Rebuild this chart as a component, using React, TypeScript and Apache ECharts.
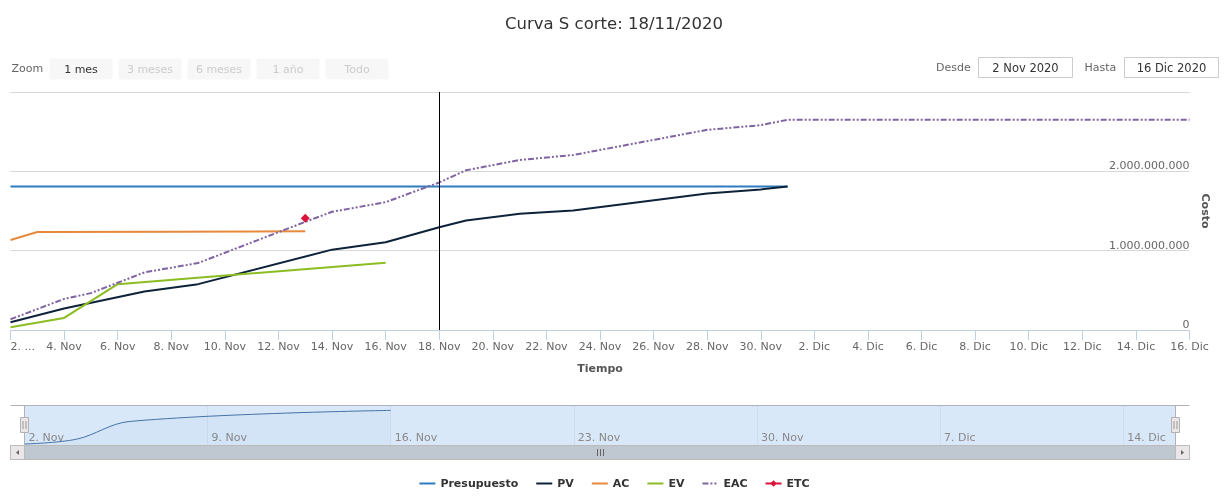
import React, { useEffect, useRef } from "react";
import * as echarts from "echarts";

const FONT = '"DejaVu Sans", sans-serif';

const chartTitle = "Curva S corte: 18/11/2020";
const startDate = "2020-11-02";
const endDate = "2020-12-16";
const cutDate = "2020-11-18";
const monthNames = ["Ene", "Feb", "Mar", "Abr", "May", "Jun", "Jul", "Ago", "Sep", "Oct", "Nov", "Dic"];
const rangeButtons = ["1 mes", "3 meses", "6 meses", "1 año", "Todo"];
const xAxisTitle = "Tiempo";
const yAxisTitle = "Costo";

const presupuestoDates = ["2020-11-02", "2020-12-01"];
const presupuestoValues = [1810000000, 1810000000];

const pvDates = ["2020-11-02", "2020-11-04", "2020-11-07", "2020-11-09", "2020-11-14", "2020-11-16", "2020-11-18", "2020-11-19", "2020-11-21", "2020-11-23", "2020-11-28", "2020-11-30", "2020-12-01"];
const pvValues = [97e6, 270e6, 485e6, 578e6, 1013e6, 1105e6, 1295e6, 1380e6, 1464e6, 1506e6, 1720e6, 1772e6, 1810e6];

const acDates = ["2020-11-02", "2020-11-03", "2020-11-08", "2020-11-13"];
const acValues = [1135e6, 1236e6, 1240e6, 1244e6];

const evDates = ["2020-11-02", "2020-11-04", "2020-11-06", "2020-11-16"];
const evValues = [34e6, 152e6, 578e6, 848e6];

const eacDates = ["2020-11-02", "2020-11-04", "2020-11-05", "2020-11-07", "2020-11-09", "2020-11-13", "2020-11-14", "2020-11-16", "2020-11-18", "2020-11-19", "2020-11-21", "2020-11-23", "2020-11-28", "2020-11-30", "2020-12-01", "2020-12-16"];
const eacValues = [135e6, 392e6, 465e6, 726e6, 844e6, 1363e6, 1490e6, 1611e6, 1860e6, 2013e6, 2143e6, 2206e6, 2523e6, 2582e6, 2650e6, 2650e6];

const etcDates = ["2020-11-13"];
const etcValues = [1410e6];

const yMin = 0;
const yMax = 3000000000;
const yStep = 1000000000;

const DAY = 86400000;
const t0 = Date.parse(startDate + "T00:00:00Z");
const dayIdx = (s: string) => (Date.parse(s + "T00:00:00Z") - t0) / DAY;
const pairs = (d: string[], v: number[]) => d.map((s, i) => [dayIdx(s), v[i]]);
const dateOf = (idx: number) => new Date(t0 + idx * DAY);
const dayLabel = (idx: number) => {
  const d = dateOf(idx);
  return `${d.getUTCDate()}. ${monthNames[d.getUTCMonth()]}`;
};
const inputLabel = (s: string) => {
  const d = new Date(Date.parse(s + "T00:00:00Z"));
  return `${d.getUTCDate()} ${monthNames[d.getUTCMonth()]} ${d.getUTCFullYear()}`;
};
const fmtNum = (v: number) => String(Math.round(v)).replace(/\B(?=(\d{3})+(?!\d))/g, ".");

const COLORS = {
  presupuesto: "#2e7cc0",
  pv: "#0d233a",
  ac: "#e6893c",
  ev: "#8bbc21",
  eac: "#8064a2",
  etc: "#dc143c",
};

export default function App() {
  const ref = useRef<HTMLDivElement>(null);
  useEffect(() => {
    if (!ref.current) return;
    const chart = echarts.init(ref.current, undefined, { renderer: "svg" });
    const totalDays = dayIdx(endDate);

    const btnX0 = 49.5;
    const btnStep = 69;
    const graphics: any[] = [];
    graphics.push({
      type: "text", x: 11.5, y: 68.5,
      style: { text: "Zoom", fill: "#666", fontSize: 11, fontFamily: FONT, align: "left", verticalAlign: "middle" },
    });
    rangeButtons.forEach((b, i) => {
      const x = btnX0 + i * btnStep;
      graphics.push({ type: "rect", shape: { x, y: 58.5, width: 63, height: 21, r: 2 }, style: { fill: "#f7f7f7" } });
      graphics.push({
        type: "text", x: x + 31.5, y: 69,
        style: { text: b, fill: i === 0 ? "#333" : "#cccccc", fontSize: 11, fontFamily: FONT, align: "center", verticalAlign: "middle" },
      });
    });
    const inputs = [
      { label: "Desde", lx: 936, bx: 978.5, val: inputLabel(startDate) },
      { label: "Hasta", lx: 1084.5, bx: 1124.5, val: inputLabel(endDate) },
    ];
    inputs.forEach((inp) => {
      graphics.push({
        type: "text", x: inp.lx, y: 67,
        style: { text: inp.label, fill: "#666", fontSize: 11, fontFamily: FONT, align: "left", verticalAlign: "middle" },
      });
      graphics.push({ type: "rect", shape: { x: inp.bx, y: 57.5, width: 94, height: 20 }, style: { fill: "#fff", stroke: "#cccccc", lineWidth: 1 } });
      graphics.push({
        type: "text", x: inp.bx + 47, y: 67.5,
        style: { text: inp.val, fill: "#333", fontSize: 11.5, fontFamily: FONT, align: "center", verticalAlign: "middle" },
      });
    });
    // navigator mask background
    graphics.push({ type: "rect", z: -1, shape: { x: 24.5, y: 405.5, width: 1151, height: 39.5 }, style: { fill: "rgba(128,179,236,0.3)" } });
    // navigator outline
    graphics.push({ type: "polyline", z: 5, shape: { points: [[10.5, 405.5], [1189.5, 405.5]] }, style: { stroke: "#b2b1b6", lineWidth: 1, fill: null } });
    graphics.push({ type: "polyline", z: 5, shape: { points: [[24.5, 405.5], [24.5, 445]] }, style: { stroke: "#b2b1b6", lineWidth: 1, fill: null } });
    graphics.push({ type: "polyline", z: 5, shape: { points: [[1175.5, 405.5], [1175.5, 445]] }, style: { stroke: "#b2b1b6", lineWidth: 1, fill: null } });
    // handles
    [24.5, 1175.5].forEach((hx) => {
      graphics.push({ type: "rect", z: 6, shape: { x: hx - 4, y: 417.5, width: 8, height: 15 }, style: { fill: "#ebe7e8", stroke: "#b2b1b6", lineWidth: 1 } });
      graphics.push({ type: "line", z: 7, shape: { x1: hx - 1.5, y1: 421, x2: hx - 1.5, y2: 429 }, style: { stroke: "#999", lineWidth: 1 } });
      graphics.push({ type: "line", z: 7, shape: { x1: hx + 1.5, y1: 421, x2: hx + 1.5, y2: 429 }, style: { stroke: "#999", lineWidth: 1 } });
    });
    // scrollbar
    graphics.push({ type: "rect", z: 5, shape: { x: 10.5, y: 445.5, width: 1179, height: 14 }, style: { fill: "#bfc8d1", stroke: "#bbbbbb", lineWidth: 1 } });
    graphics.push({ type: "rect", z: 6, shape: { x: 10.5, y: 445.5, width: 14, height: 14 }, style: { fill: "#ebe7e8", stroke: "#bbbbbb", lineWidth: 1 } });
    graphics.push({ type: "rect", z: 6, shape: { x: 1175.5, y: 445.5, width: 14, height: 14 }, style: { fill: "#ebe7e8", stroke: "#bbbbbb", lineWidth: 1 } });
    graphics.push({ type: "polygon", z: 7, shape: { points: [[19, 450], [19, 455], [16, 452.5]] }, style: { fill: "#666" } });
    graphics.push({ type: "polygon", z: 7, shape: { points: [[1181, 450], [1181, 455], [1184, 452.5]] }, style: { fill: "#666" } });
    [-3, 0, 3].forEach((dx) => {
      graphics.push({ type: "line", z: 7, shape: { x1: 600.5 + dx, y1: 449, x2: 600.5 + dx, y2: 456 }, style: { stroke: "#666", lineWidth: 1 } });
    });

    const lineBase = { type: "line", symbol: "none", silent: true, xAxisIndex: 0, yAxisIndex: 0 } as any;

    const option: any = {
      animation: false,
      textStyle: { fontFamily: FONT },
      title: {
        text: chartTitle, left: "center", top: 15, padding: 0,
        textStyle: { fontSize: 16.5, fontWeight: "normal", color: "#333", fontFamily: FONT },
      },
      legend: {
        data: [
          { name: "Presupuesto" },
          { name: "PV" },
          { name: "AC" },
          { name: "EV" },
          { name: "EAC" },
          { name: "ETC", itemStyle: { opacity: 1 } },
        ],
        left: "center", top: 473, itemWidth: 16, itemHeight: 8, itemGap: 17,
        itemStyle: { opacity: 0 },
        textStyle: { fontSize: 11, fontWeight: "bold", color: "#333", fontFamily: FONT },
        selectedMode: false,
      },
      grid: [
        { left: 10.5, right: 38.5, top: 92, height: 238, outerBoundsMode: "none", containLabel: false },
        { left: 24.5, right: 52.5, top: 405.5, height: 39.5, outerBoundsMode: "none", containLabel: false },
      ],
      xAxis: [
        {
          type: "value", gridIndex: 0, min: 0, max: totalDays, interval: 2,
          name: xAxisTitle, nameLocation: "middle", nameGap: 38,
          nameTextStyle: { fontSize: 11, fontWeight: "bold", color: "#555", fontFamily: FONT, verticalAlign: "middle" },
          axisLine: { show: true, lineStyle: { color: "#c0d0e0", width: 1 } },
          axisTick: { show: true, length: 10, lineStyle: { color: "#c0d0e0" } },
          splitLine: { show: false },
          axisLabel: {
            margin: 11, fontSize: 11, color: "#666", fontFamily: FONT, showMinLabel: true, showMaxLabel: true,
            alignMinLabel: "left",
            formatter: (v: number) => (v === 0 ? `${dateOf(0).getUTCDate()}. ...` : dayLabel(v)),
          },
        },
        {
          type: "value", gridIndex: 1, min: 0, max: totalDays, interval: 7,
          axisLine: { show: false }, axisTick: { show: false },
          splitLine: { show: true, lineStyle: { color: "rgba(0,0,0,0.05)" } },
          axisLabel: {
            inside: true, margin: 2, align: "left", padding: [0, 0, 0, 4], fontSize: 11, color: "#888", fontFamily: FONT,
            formatter: (v: number) => (v % 7 === 0 && v < totalDays ? dayLabel(v) : ""),
          },
        },
      ],
      yAxis: [
        {
          type: "value", gridIndex: 0, position: "right", min: yMin, max: yMax, interval: yStep,
          name: yAxisTitle, nameLocation: "middle", nameGap: 14, nameRotate: -90,
          nameTextStyle: { fontSize: 11, fontWeight: "bold", color: "#555", fontFamily: FONT, verticalAlign: "middle", align: "center" },
          axisLine: { show: false }, axisTick: { show: false },
          splitLine: { show: true, lineStyle: { color: "#d8d8d8" } },
          axisLabel: {
            inside: true, margin: 0, verticalAlign: "bottom", lineHeight: 11,
            fontSize: 11, color: "#666", fontFamily: FONT, showMaxLabel: false,
            formatter: (v: number) => (v >= yMax ? "" : fmtNum(v)),
          },
        },
        {
          type: "value", gridIndex: 1, min: 9500000, max: 966000000, show: false,
          splitLine: { show: false },
        },
      ],
      series: [
        {
          ...lineBase, name: "Presupuesto", data: pairs(presupuestoDates, presupuestoValues),
          color: COLORS.presupuesto, lineStyle: { color: COLORS.presupuesto, width: 2 },
          markLine: {
            silent: true, symbol: "none", label: { show: false },
            lineStyle: { color: "#000", width: 1, type: "solid" },
            data: [{ xAxis: dayIdx(cutDate) }],
          },
        },
        { ...lineBase, name: "PV", data: pairs(pvDates, pvValues), color: COLORS.pv, lineStyle: { color: COLORS.pv, width: 2 } },
        { ...lineBase, name: "AC", data: pairs(acDates, acValues), color: COLORS.ac, lineStyle: { color: COLORS.ac, width: 2 } },
        { ...lineBase, name: "EV", data: pairs(evDates, evValues), color: COLORS.ev, lineStyle: { color: COLORS.ev, width: 2 } },
        {
          ...lineBase, name: "EAC", data: pairs(eacDates, eacValues), color: COLORS.eac,
          lineStyle: { color: COLORS.eac, width: 2, type: [6, 2, 2, 2, 2, 2], cap: "butt" },
        },
        {
          ...lineBase, name: "ETC", data: pairs(etcDates, etcValues), color: COLORS.etc,
          symbol: "diamond", symbolSize: 9, showSymbol: true,
          itemStyle: { color: COLORS.etc }, lineStyle: { color: COLORS.etc, width: 2 },
        },
        {
          type: "line", name: "navigator", xAxisIndex: 1, yAxisIndex: 1, silent: true, symbol: "none",
          smooth: 0.35, data: pairs(evDates, evValues),
          lineStyle: { color: "#4572a7", width: 1 },
          areaStyle: { color: "rgba(69,114,167,0.05)" },
        },
      ],
      graphic: graphics,
    };
    chart.setOption(option);
    return () => chart.dispose();
  }, []);
  return <div ref={ref} style={{ position: "fixed", left: 0, top: 0, width: 1228, height: 496 }} />;
}
